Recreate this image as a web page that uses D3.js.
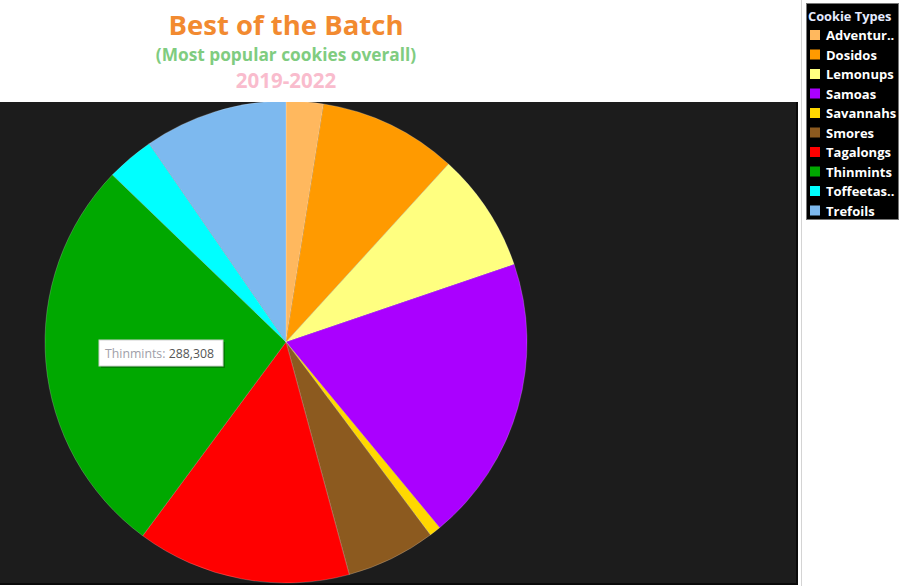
<!DOCTYPE html>
<html><head><meta charset="utf-8">
<script src="https://cdn.jsdelivr.net/npm/d3@7"></script>
<style>
html,body{margin:0;padding:0;background:#fff;}
svg{display:block;}
</style></head>
<body>
<svg id="chart" width="900" height="586"></svg>
<script>
const categories = ["Adventurefuls","Dosidos","Lemonups","Samoas","Savannahs","Smores","Tagalongs","Thinmints","Toffeetastic","Trefoils"];
const legendLabels = ["Adventur..","Dosidos","Lemonups","Samoas","Savannahs","Smores","Tagalongs","Thinmints","Toffeetas..","Trefoils"];
const values = [26600, 98900, 85200, 204800, 8300, 63900, 153000, 288308, 34000, 102400];
const colors = ["#FFB85E","#FF9A00","#FFFF80","#AA00FF","#FFD800","#8C5A1F","#FF0000","#00A800","#00FFFF","#7DB9EF"];
const titleText = "Best of the Batch";
const subtitleText = "(Most popular cookies overall)";
const yearText = "2019-2022";
const legendTitle = "Cookie Types";
const tooltipIndex = 7;

const svg = d3.select("#chart");
const font = "'Open Sans', 'DejaVu Sans', sans-serif";

// vertical divider
svg.append("line").attr("x1",801.5).attr("x2",801.5).attr("y1",0).attr("y2",586)
  .attr("stroke","#d4d4d4").attr("stroke-width",1);

// dark panel
const panel = {x:0, y:102, w:797, h:482};
svg.append("rect").attr("x",panel.x).attr("y",panel.y).attr("width",panel.w).attr("height",panel.h)
  .attr("fill","#1c1c1c");
svg.append("line").attr("x1",797).attr("x2",797).attr("y1",102).attr("y2",584).attr("stroke","#0a0a0a").attr("stroke-width",2);
svg.append("line").attr("x1",0).attr("x2",798).attr("y1",584).attr("y2",584).attr("stroke","#0a0a0a").attr("stroke-width",2);

svg.append("clipPath").attr("id","pclip").append("rect")
  .attr("x",panel.x).attr("y",panel.y).attr("width",panel.w).attr("height",panel.h);

// titles
const cx = 286;
svg.append("text").attr("x",cx).attr("y",35).attr("text-anchor","middle")
  .attr("font-family",font).attr("font-weight","bold").attr("font-size",27.5).attr("fill","#F28A30").text(titleText);
svg.append("text").attr("x",cx).attr("y",61).attr("text-anchor","middle")
  .attr("font-family",font).attr("font-weight","bold").attr("font-size",17.3).attr("fill","#80CC80").text(subtitleText);
svg.append("text").attr("x",cx).attr("y",88).attr("text-anchor","middle")
  .attr("font-family",font).attr("font-weight","bold").attr("font-size",20.5).attr("fill","#F9BCCD").text(yearText);

// pie
const R = 241;
const pie = d3.pie().sort(null).value(d=>d)(values);
const arc = d3.arc().innerRadius(0).outerRadius(R);
const g = svg.append("g").attr("clip-path","url(#pclip)")
  .append("g").attr("transform",`translate(${cx},342)`);
g.selectAll("path").data(pie).join("path")
  .attr("d",arc).attr("fill",(d,i)=>colors[i])
  .attr("stroke","rgba(255,255,255,0.35)").attr("stroke-width",0.6);

// tooltip
const tt = svg.append("g").attr("transform","translate(99,340)");
const fmt = d3.format(",");
tt.append("rect").attr("x",2).attr("y",2).attr("width",124).attr("height",26).attr("fill","rgba(0,0,0,0.25)");
tt.append("rect").attr("width",124).attr("height",26).attr("fill","#fff").attr("stroke","#cfcfcf");
const ttText = tt.append("text").attr("x",6).attr("y",17.5).attr("font-family",font).attr("font-size",12.3);
ttText.append("tspan").attr("fill","#a0a0a8").text(categories[tooltipIndex]+": ");
ttText.append("tspan").attr("fill","#555").text(fmt(values[tooltipIndex]));

// legend
const lg = svg.append("g");
lg.append("rect").attr("x",806.5).attr("y",3.5).attr("width",92).attr("height",216)
  .attr("fill","#000").attr("stroke","#777");
lg.append("text").attr("x",808).attr("y",21).attr("font-family",font).attr("font-weight","bold")
  .attr("font-size",12.8).attr("fill","#e4eaff").text(legendTitle);
const ly = d3.scaleBand().domain(d3.range(categories.length)).range([26,221]);
const items = lg.selectAll("g.item").data(categories).join("g").attr("class","item")
  .attr("transform",(d,i)=>`translate(0,${ly(i)})`);
items.append("rect").attr("x",810).attr("y",4).attr("width",10).attr("height",10).attr("fill",(d,i)=>colors[i]);
items.append("text").attr("x",826).attr("y",14).attr("font-family",font).attr("font-weight","bold")
  .attr("font-size",13).attr("fill","#fff").text((d,i)=>legendLabels[i]);
</script>
</body></html>
